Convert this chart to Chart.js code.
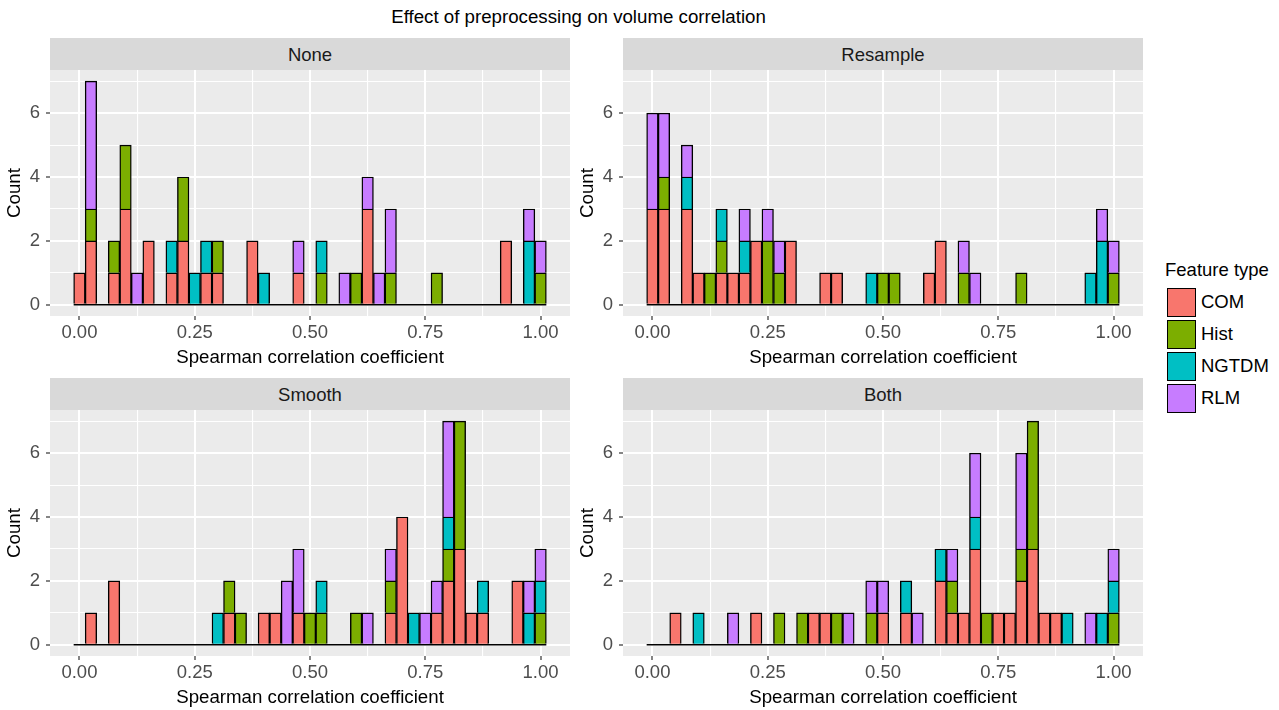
<!DOCTYPE html>
<html>
<head>
<meta charset="utf-8">
<script src="https://cdn.jsdelivr.net/npm/chart.js@4.4.0/dist/chart.umd.min.js"></script>
<style>
  body { margin: 0; width: 1279px; height: 710px; background: #fff; position: relative; overflow: hidden;
         font-family: "Liberation Sans", Arial, Helvetica, sans-serif; }
  canvas { position: absolute; }
  .strip { position: absolute; width: 520px; height: 32px; background: #d9d9d9; color: #1a1a1a;
           font-size: 18.5px; line-height: 33px; text-align: center; }
  #title { position: absolute; top: 6px; left: 0; width: 1157px; text-align: center; font-size: 18.7px; color: #000; }
  #legend { position: absolute; left: 1165px; top: 259px; color: #000; }
  #legend .lt { font-size: 18.5px; height: 27px; }
  #legend .row { height: 32px; display: flex; align-items: center; }
  #legend .key { width: 27px; height: 27px; border: 1.5px solid #000; margin-left: 2px; margin-right: 5px; }
  #legend .lab { font-size: 18.5px; }
</style>
</head>
<body>
<div id="title">Effect of preprocessing on volume correlation</div>
<div id="legend"></div>

<script>
// histogram bin centres
const bins = [0, 0.025, 0.05, 0.075, 0.1, 0.125, 0.15, 0.175, 0.2, 0.225,
              0.25, 0.275, 0.3, 0.325, 0.35, 0.375, 0.4, 0.425, 0.45, 0.475,
              0.5, 0.525, 0.55, 0.575, 0.6, 0.625, 0.65, 0.675, 0.7, 0.725,
              0.75, 0.775, 0.8, 0.825, 0.85, 0.875, 0.9, 0.925, 0.95, 0.975, 1];

const featureTypes = ['COM', 'Hist', 'NGTDM', 'RLM'];
const featureColors = ['#F8766D', '#7CAE00', '#00BFC4', '#C77CFF'];

const xMajor = [0, 0.25, 0.5, 0.75, 1];
const xMinor = [0.125, 0.375, 0.625, 0.875];
const yMajor = [0, 2, 4, 6];
const yMinor = [1, 3, 5, 7];

// counts per bin
const noneCOM   = [1,2,0,1,3,0,2,0,1,2, 0,1,1,0,0,2,0,0,0,1, 0,0,0,0,0,3,0,0,0,0, 0,0,0,0,0,0,0,2,0,0, 0];
const noneHist  = [0,1,0,1,2,0,0,0,0,2, 0,0,1,0,0,0,0,0,0,0, 0,1,0,0,1,0,0,1,0,0, 0,1,0,0,0,0,0,0,0,0, 1];
const noneNGTDM = [0,0,0,0,0,0,0,0,1,0, 1,1,0,0,0,0,1,0,0,0, 0,1,0,0,0,0,0,0,0,0, 0,0,0,0,0,0,0,0,0,2, 0];
const noneRLM   = [0,4,0,0,0,1,0,0,0,0, 0,0,0,0,0,0,0,0,0,1, 0,0,0,1,0,1,1,2,0,0, 0,0,0,0,0,0,0,0,0,1, 1];

const resampleCOM   = [3,3,0,3,1,0,1,1,1,2, 0,0,2,0,0,1,1,0,0,0, 0,0,0,0,1,2,0,0,0,0, 0,0,0,0,0,0,0,0,0,0, 0];
const resampleHist  = [0,1,0,0,0,1,1,0,0,0, 2,1,0,0,0,0,0,0,0,0, 1,1,0,0,0,0,0,1,0,0, 0,0,1,0,0,0,0,0,0,0, 1];
const resampleNGTDM = [0,0,0,1,0,0,1,0,1,0, 0,0,0,0,0,0,0,0,0,1, 0,0,0,0,0,0,0,0,0,0, 0,0,0,0,0,0,0,0,1,2, 0];
const resampleRLM   = [3,2,0,1,0,0,0,0,1,0, 1,1,0,0,0,0,0,0,0,0, 0,0,0,0,0,0,0,1,1,0, 0,0,0,0,0,0,0,0,0,1, 1];

const smoothCOM   = [0,1,0,2,0,0,0,0,0,0, 0,0,0,1,0,0,1,1,0,1, 0,0,0,0,0,0,0,1,4,0, 0,1,2,3,1,1,0,0,2,0, 0];
const smoothHist  = [0,0,0,0,0,0,0,0,0,0, 0,0,0,1,1,0,0,0,0,0, 1,1,0,0,1,0,0,1,0,0, 0,0,1,4,0,0,0,0,0,0, 1];
const smoothNGTDM = [0,0,0,0,0,0,0,0,0,0, 0,0,1,0,0,0,0,0,0,0, 0,1,0,0,0,0,0,0,0,1, 0,0,1,0,0,1,0,0,0,1, 1];
const smoothRLM   = [0,0,0,0,0,0,0,0,0,0, 0,0,0,0,0,0,0,0,2,2, 0,0,0,0,0,1,0,1,0,0, 1,1,3,0,0,0,0,0,0,1, 1];

const bothCOM   = [0,0,1,0,0,0,0,0,0,1, 0,0,0,0,1,1,0,0,0,0, 1,0,1,0,0,2,1,1,3,0, 1,1,2,3,1,1,0,0,0,0, 0];
const bothHist  = [0,0,0,0,0,0,0,0,0,0, 0,1,0,1,0,0,1,0,0,1, 0,0,0,0,0,0,1,0,0,1, 0,0,1,4,0,0,0,0,0,0, 1];
const bothNGTDM = [0,0,0,0,1,0,0,0,0,0, 0,0,0,0,0,0,0,0,0,0, 0,0,1,0,0,1,0,0,1,0, 0,0,0,0,0,0,1,0,0,1, 1];
const bothRLM   = [0,0,0,0,0,0,0,1,0,0, 0,0,0,0,0,0,0,1,0,1, 1,0,0,1,0,0,1,0,2,0, 0,0,3,0,0,0,0,0,1,0, 1];

const panels = [
  { name: 'None',     left: 0,   top: 70,  series: [noneCOM, noneHist, noneNGTDM, noneRLM] },
  { name: 'Resample', left: 573, top: 70,  series: [resampleCOM, resampleHist, resampleNGTDM, resampleRLM] },
  { name: 'Smooth',   left: 0,   top: 410, series: [smoothCOM, smoothHist, smoothNGTDM, smoothRLM] },
  { name: 'Both',     left: 573, top: 410, series: [bothCOM, bothHist, bothNGTDM, bothRLM] }
];

const FONT = '"Liberation Sans", Arial, Helvetica, sans-serif';

const panelBg = {
  id: 'panelBg',
  beforeDraw(chart) {
    const { ctx, chartArea: a } = chart;
    ctx.save();
    ctx.fillStyle = '#ebebeb';
    ctx.fillRect(a.left, a.top, a.width, a.height);
    ctx.restore();
  },
  afterDatasetsDraw(chart) {
    // zero-count bins are drawn as a flat outline, like geom_histogram
    const { ctx, scales: { x, y } } = chart;
    const half = (bins[1] - bins[0]) / 2;
    const py = y.getPixelForValue(0);
    ctx.save();
    ctx.strokeStyle = '#000';
    ctx.lineWidth = 1.5;
    ctx.beginPath();
    ctx.moveTo(x.getPixelForValue(bins[0] - half), py);
    ctx.lineTo(x.getPixelForValue(bins[bins.length - 1] + half), py);
    ctx.stroke();
    ctx.restore();
  }
};

function isMajor(list, v) {
  return list.some(m => Math.abs(m - v) < 1e-9);
}

function gridOpts(major) {
  return {
    offset: false,
    color: '#ffffff',
    lineWidth: c => (c.tick && isMajor(major, c.tick.value)) ? 2 : 1.1,
    tickColor: c => (c.tick && isMajor(major, c.tick.value)) ? '#333333' : 'rgba(0,0,0,0)',
    tickLength: 4,
    tickWidth: 1.2
  };
}

panels.forEach(p => {
  const strip = document.createElement('div');
  strip.className = 'strip';
  strip.style.left = (p.left + 50) + 'px';
  strip.style.top = (p.top - 32) + 'px';
  strip.textContent = p.name;
  document.body.appendChild(strip);

  const canvas = document.createElement('canvas');
  canvas.width = 570;
  canvas.height = 300;
  canvas.style.left = p.left + 'px';
  canvas.style.top = p.top + 'px';
  document.body.appendChild(canvas);

  new Chart(canvas, {
    type: 'bar',
    data: {
      datasets: p.series.map((vals, i) => ({
        label: featureTypes[i],
        data: bins.map((b, j) => ({ x: b, y: vals[j] })),
        backgroundColor: featureColors[i],
        borderColor: '#000000',
        borderWidth: 1.4,
        barPercentage: 1,
        categoryPercentage: 1
      }))
    },
    options: {
      responsive: false,
      animation: false,
      devicePixelRatio: 1,
      layout: { padding: 0 },
      plugins: { legend: { display: false }, tooltip: { enabled: false } },
      scales: {
        x: {
          type: 'linear',
          stacked: true,
          offset: false,
          min: -0.0638,
          max: 1.0638,
          border: { display: false },
          grid: gridOpts(xMajor),
          afterBuildTicks: s => { s.ticks = xMajor.concat(xMinor).sort((a, b) => a - b).map(v => ({ value: v })); },
          afterFit: s => { s.height = 54; s.paddingLeft = 0; s.paddingRight = 0; },
          ticks: {
            autoSkip: false, maxRotation: 0, minRotation: 0, padding: 2,
            color: '#4d4d4d', font: { family: FONT, size: 18.5 },
            callback: v => isMajor(xMajor, v) ? v.toFixed(2) : ''
          },
          title: {
            display: true, text: 'Spearman correlation coefficient', color: '#000',
            font: { family: FONT, size: 18.7 }, padding: { top: 0, bottom: 1 }
          }
        },
        y: {
          stacked: true,
          min: -0.35,
          max: 7.35,
          border: { display: false },
          grid: gridOpts(yMajor),
          afterBuildTicks: s => { s.ticks = yMajor.concat(yMinor).sort((a, b) => a - b).map(v => ({ value: v })); },
          afterFit: s => { s.width = 50; s.paddingTop = 0; s.paddingBottom = 0; },
          ticks: {
            padding: 6, color: '#4d4d4d', font: { family: FONT, size: 18.5 },
            callback: v => isMajor(yMajor, v) ? String(v) : ''
          },
          title: {
            display: true, text: 'Count', color: '#000',
            font: { family: FONT, size: 18.7 }, padding: { top: 4, bottom: 0 }
          }
        }
      }
    },
    plugins: [panelBg]
  });
});

// legend
const legend = document.getElementById('legend');
legend.innerHTML = '<div class="lt">Feature type</div>' + featureTypes.map((t, i) =>
  '<div class="row"><div class="key" style="background:' + featureColors[i] + '"></div><div class="lab">' + t + '</div></div>'
).join('');
</script>
</body>
</html>
